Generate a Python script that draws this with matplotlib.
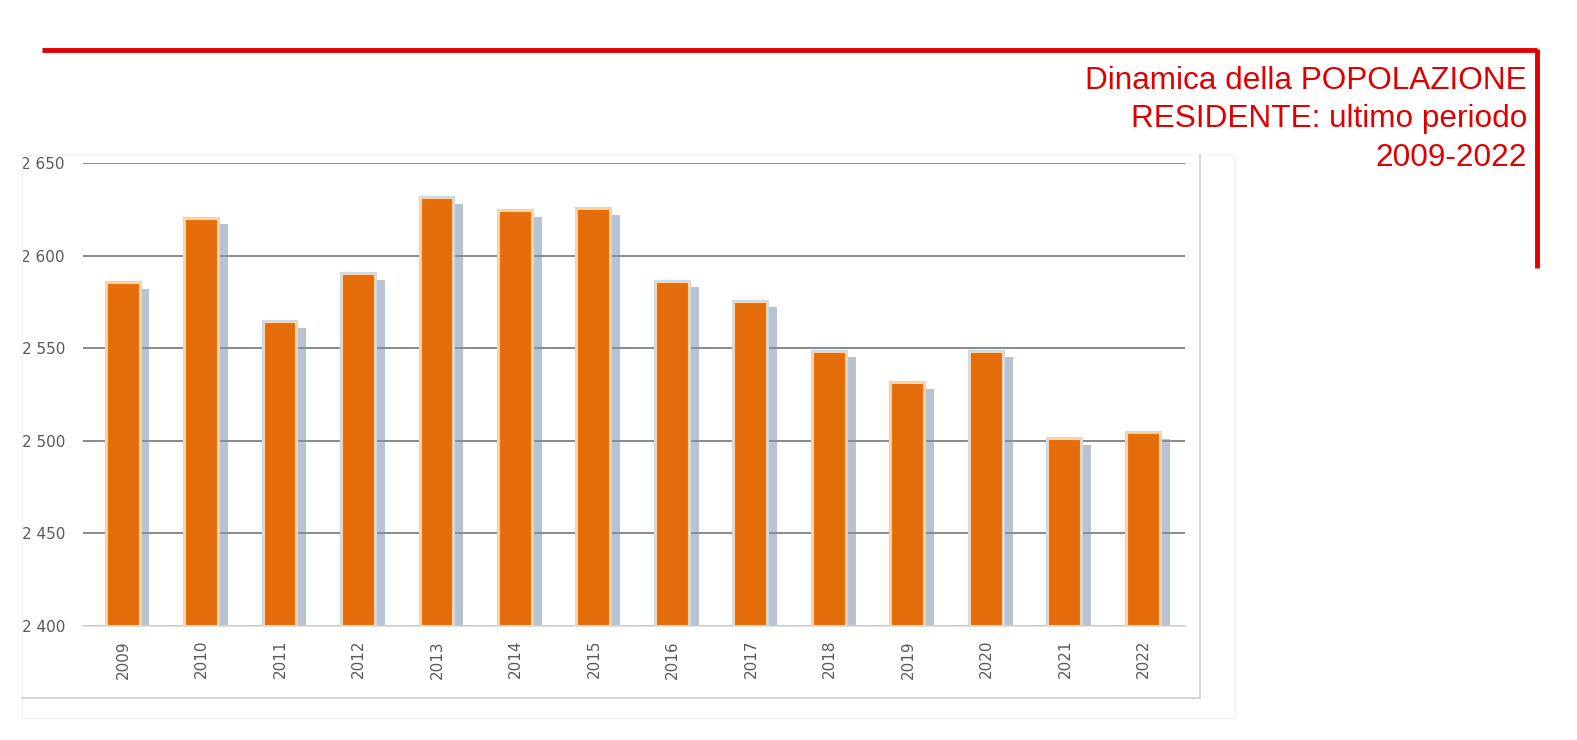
import matplotlib
matplotlib.use("Agg")
import matplotlib.pyplot as plt
import matplotlib.patheffects as pe
from matplotlib.patches import Rectangle
from matplotlib.lines import Line2D

years = ["2009", "2010", "2011", "2012", "2013", "2014", "2015",
         "2016", "2017", "2018", "2019", "2020", "2021", "2022"]
population = [2585, 2620, 2564, 2590, 2631, 2624, 2625,
              2586, 2575, 2548, 2531, 2548, 2501, 2504]
yticks = [2400, 2450, 2500, 2550, 2600, 2650]
ytick_labels = ["2 400", "2 450", "2 500", "2 550", "2 600", "2 650"]
title_lines = ["Dinamica della POPOLAZIONE", "RESIDENTE: ultimo periodo", "2009-2022"]

W, H = 1577, 740
fig = plt.figure(figsize=(W / 100, H / 100), dpi=100)
fig.patch.set_facecolor("white")

# chart frame
fig.add_artist(Rectangle((22 / W, 1 - 718 / H), (1235 - 22) / W, (718 - 155) / H,
                         transform=fig.transFigure, fill=False, edgecolor="#F2F2F2", lw=1))
fig.add_artist(Line2D([22 / W, 1200 / W], [1 - 698 / H, 1 - 698 / H],
                      transform=fig.transFigure, color="#D0D0D0", lw=1.2))
fig.add_artist(Line2D([1200 / W, 1200 / W], [1 - 698 / H, 1 - 155 / H],
                      transform=fig.transFigure, color="#D0D0D0", lw=1.2))

ax = fig.add_axes([83 / W, 1 - 626 / H, (1185 - 83) / W, (626 - 163) / H])
ax.set_facecolor("none")
x = list(range(len(years)))
bars = ax.bar(x, [p - 2400 for p in population], bottom=2400, width=0.42,
              color="#E46C0A", edgecolor="#FBD3A8", linewidth=1.5, zorder=3)
for b in bars:
    b.set_path_effects([pe.SimplePatchShadow(offset=(7, -4), shadow_rgbFace="#7F93AD", alpha=0.55),
                        pe.Stroke(linewidth=3, foreground="#C6D9F1"),
                        pe.Normal()])

ax.set_ylim(2400, 2650)
ax.set_xlim(-0.51, 13.53)
ax.set_yticks(yticks)
ax.set_yticklabels(ytick_labels)
ax.set_xticks(x)
ax.set_xticklabels(years, rotation=90)
ax.grid(axis="y", color="#808080", lw=1.3, zorder=0)
for s in ["top", "right", "left"]:
    ax.spines[s].set_visible(False)
ax.spines["bottom"].set_color("#D9D9D9")
ax.spines["bottom"].set_linewidth(1.2)
ax.spines["bottom"].set_zorder(4)
ax.tick_params(axis="both", length=0, labelsize=11, labelcolor="#595959")
ax.tick_params(axis="y", pad=13)
ax.tick_params(axis="x", pad=10)

# red header lines
fig.add_artist(Line2D([42 / W, 1537 / W], [1 - 50 / H, 1 - 50 / H],
                      transform=fig.transFigure, color="#E00000", lw=3.5, solid_capstyle="butt"))
fig.add_artist(Line2D([1537 / W, 1537 / W], [1 - 48.5 / H, 1 - 268 / H],
                      transform=fig.transFigure, color="#E00000", lw=3.5, solid_capstyle="butt"))

for i, t in enumerate(title_lines):
    fig.text(1527 / W, 1 - (81 + i * 38.5) / H, t, ha="right", va="center",
             color="#E00000", fontsize=22.7, family="Liberation Sans")

fig.savefig("out.png", dpi=100)
